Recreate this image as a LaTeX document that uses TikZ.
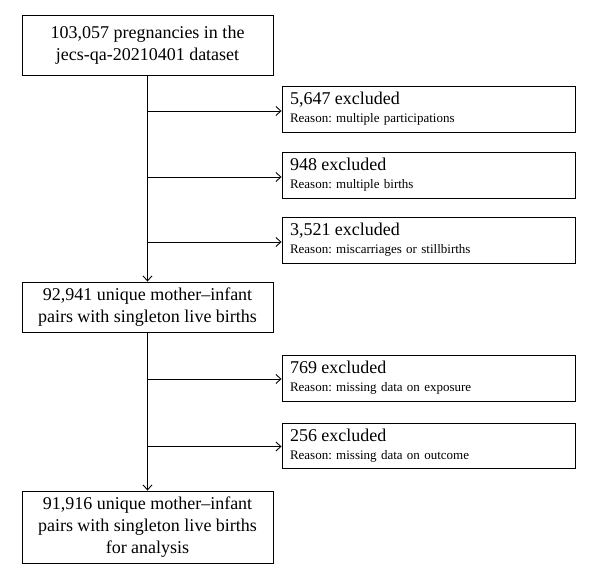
\documentclass[tikz,border=0pt]{standalone}
\usepackage{fontspec}
\setmainfont{Liberation Serif}
\usetikzlibrary{arrows.meta}
\frenchspacing
\newcommand{\extitle}[2]{{\fontsize{18}{18}\selectfont #1}\\[5pt]{\fontsize{13}{13}\selectfont #2}}
\begin{document}
\begin{tikzpicture}[x=1pt,y=1pt,
  mainbox/.style={draw, line width=0.9pt, rectangle, minimum width=251pt, align=center, font=\fontsize{18}{22}\selectfont, inner sep=2pt},
  exbox/.style={draw, line width=0.9pt, rectangle, minimum width=293pt, minimum height=46pt, text width=277pt, align=left, inner sep=0pt, font=\fontsize{13}{13}\selectfont},
  flow/.style={line width=0.9pt, -{Straight Barb[length=5pt,width=9pt,line width=0.9pt]}}]
\useasboundingbox (0,0) rectangle (600,-580);
\node[mainbox, minimum height=60pt] (top) at (147.5,-45) {103,057 pregnancies in the\\jecs-qa-20210401 dataset};
\node[mainbox, minimum height=50pt] (mid) at (147.5,-307) {92,941 unique mother–infant\\pairs with singleton live births};
\node[mainbox, minimum height=72pt] (bot) at (147.5,-527) {91,916 unique mother–infant\\pairs with singleton live births\\for analysis};
\node[exbox] (e1) at (428.5,-109) {\extitle{5,647 excluded}{Reason: multiple participations}};
\node[exbox] (e2) at (428.5,-175) {\extitle{948 excluded}{Reason: multiple births}};
\node[exbox] (e3) at (428.5,-240) {\extitle{3,521 excluded}{Reason: miscarriages or stillbirths}};
\node[exbox] (e4) at (428.5,-378) {\extitle{769 excluded}{Reason: missing data on exposure}};
\node[exbox, minimum height=45pt] (e5) at (428.5,-445.5) {\extitle{256 excluded}{Reason: missing data on outcome}};
\draw[flow] (top.south) -- (mid.north);
\draw[flow] (mid.south) -- (bot.north);
\foreach \b in {e1,e2,e3}{
  \draw[flow] ([yshift=-2pt]top.south |- \b.west) -- ([yshift=-2pt]\b.west);
}
\foreach \b in {e4,e5}{
  \draw[flow] ([yshift=-1pt]mid.south |- \b.west) -- ([yshift=-1pt]\b.west);
}
\end{tikzpicture}
\end{document}
